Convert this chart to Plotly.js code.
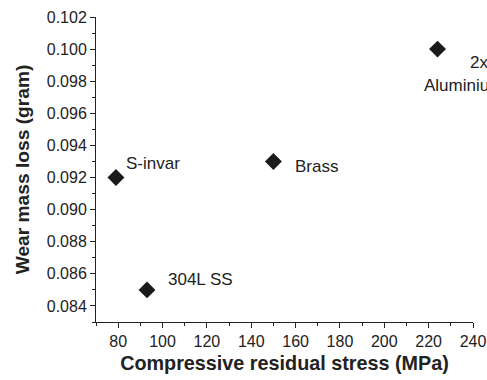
<!DOCTYPE html>
<html><head><meta charset="utf-8">
<script src="https://cdn.plot.ly/plotly-3.0.1.min.js"></script>
<style>html,body{margin:0;padding:0;background:#fff}#c{width:487px;height:380px}</style>
</head><body><div id="c"></div>
<script>
const materials = ["S-invar", "304L SS", "Brass", "2xxx Aluminium"];
const stressMPa = [79, 93, 150, 224];
const wearLossGram = [0.092, 0.085, 0.093, 0.100];
const labelLines = [["S-invar"], ["304L SS"], ["Brass"], ["2xxx", "Aluminium"]];
const xTicks = [80, 100, 120, 140, 160, 180, 200, 220, 240];
const yTicks = [0.084, 0.086, 0.088, 0.090, 0.092, 0.094, 0.096, 0.098, 0.100, 0.102];

const labelOffsets = [[[8, 14]], [[19, 10]], [[20, -5]], [[30, -13], [-16, -36]]];
const annotations = [];
labelLines.forEach((lines, i) => {
  lines.forEach((t, j) => {
    annotations.push({
      x: stressMPa[i], y: wearLossGram[i], xref: 'x', yref: 'y', text: t,
      showarrow: false, xanchor: 'left', yanchor: 'middle',
      xshift: labelOffsets[i][j][0], yshift: labelOffsets[i][j][1],
      font: {family: 'Liberation Sans, Arial, sans-serif', size: 17, color: '#222'}
    });
  });
});

const trace = {
  x: stressMPa, y: wearLossGram, text: materials, type: 'scatter', mode: 'markers',
  marker: {symbol: 'diamond', size: 13, color: '#1a1a1a'}, cliponaxis: false, hoverinfo: 'text'
};
const axisFont = {family: 'Liberation Sans, Arial, sans-serif', size: 16, color: '#222'};
const layout = {
  width: 487, height: 380,
  margin: {l: 96, r: 14, t: 17, b: 58},
  paper_bgcolor: '#fff', plot_bgcolor: '#fff', showlegend: false,
  xaxis: {
    range: [70, 240], tickvals: xTicks, ticks: 'outside', ticklen: 5, tickcolor: '#222',
    showline: true, linecolor: '#222', linewidth: 1, showgrid: false, zeroline: false,
    tickfont: axisFont,
    minor: {dtick: 10, tick0: 70, ticks: 'outside', ticklen: 3, tickcolor: '#222'},
    title: {text: '<b>Compressive residual stress (MPa)</b>', standoff: 6,
      font: {family: 'Liberation Sans, Arial, sans-serif', size: 19.8, color: '#222'}}
  },
  yaxis: {
    range: [0.083, 0.102], tickvals: yTicks, tickformat: '.3f', ticks: 'outside', ticklen: 5, tickcolor: '#222',
    showline: true, linecolor: '#222', linewidth: 1, showgrid: false, zeroline: false,
    tickfont: axisFont,
    minor: {dtick: 0.001, tick0: 0.083, ticks: 'outside', ticklen: 3, tickcolor: '#222'},
    title: {text: '<b>Wear mass loss (gram)</b>', standoff: 12,
      font: {family: 'Liberation Sans, Arial, sans-serif', size: 19.2, color: '#222'}}
  },
  annotations: annotations
};
Plotly.newPlot('c', [trace], layout, {displayModeBar: false, staticPlot: true});
</script></body></html>
